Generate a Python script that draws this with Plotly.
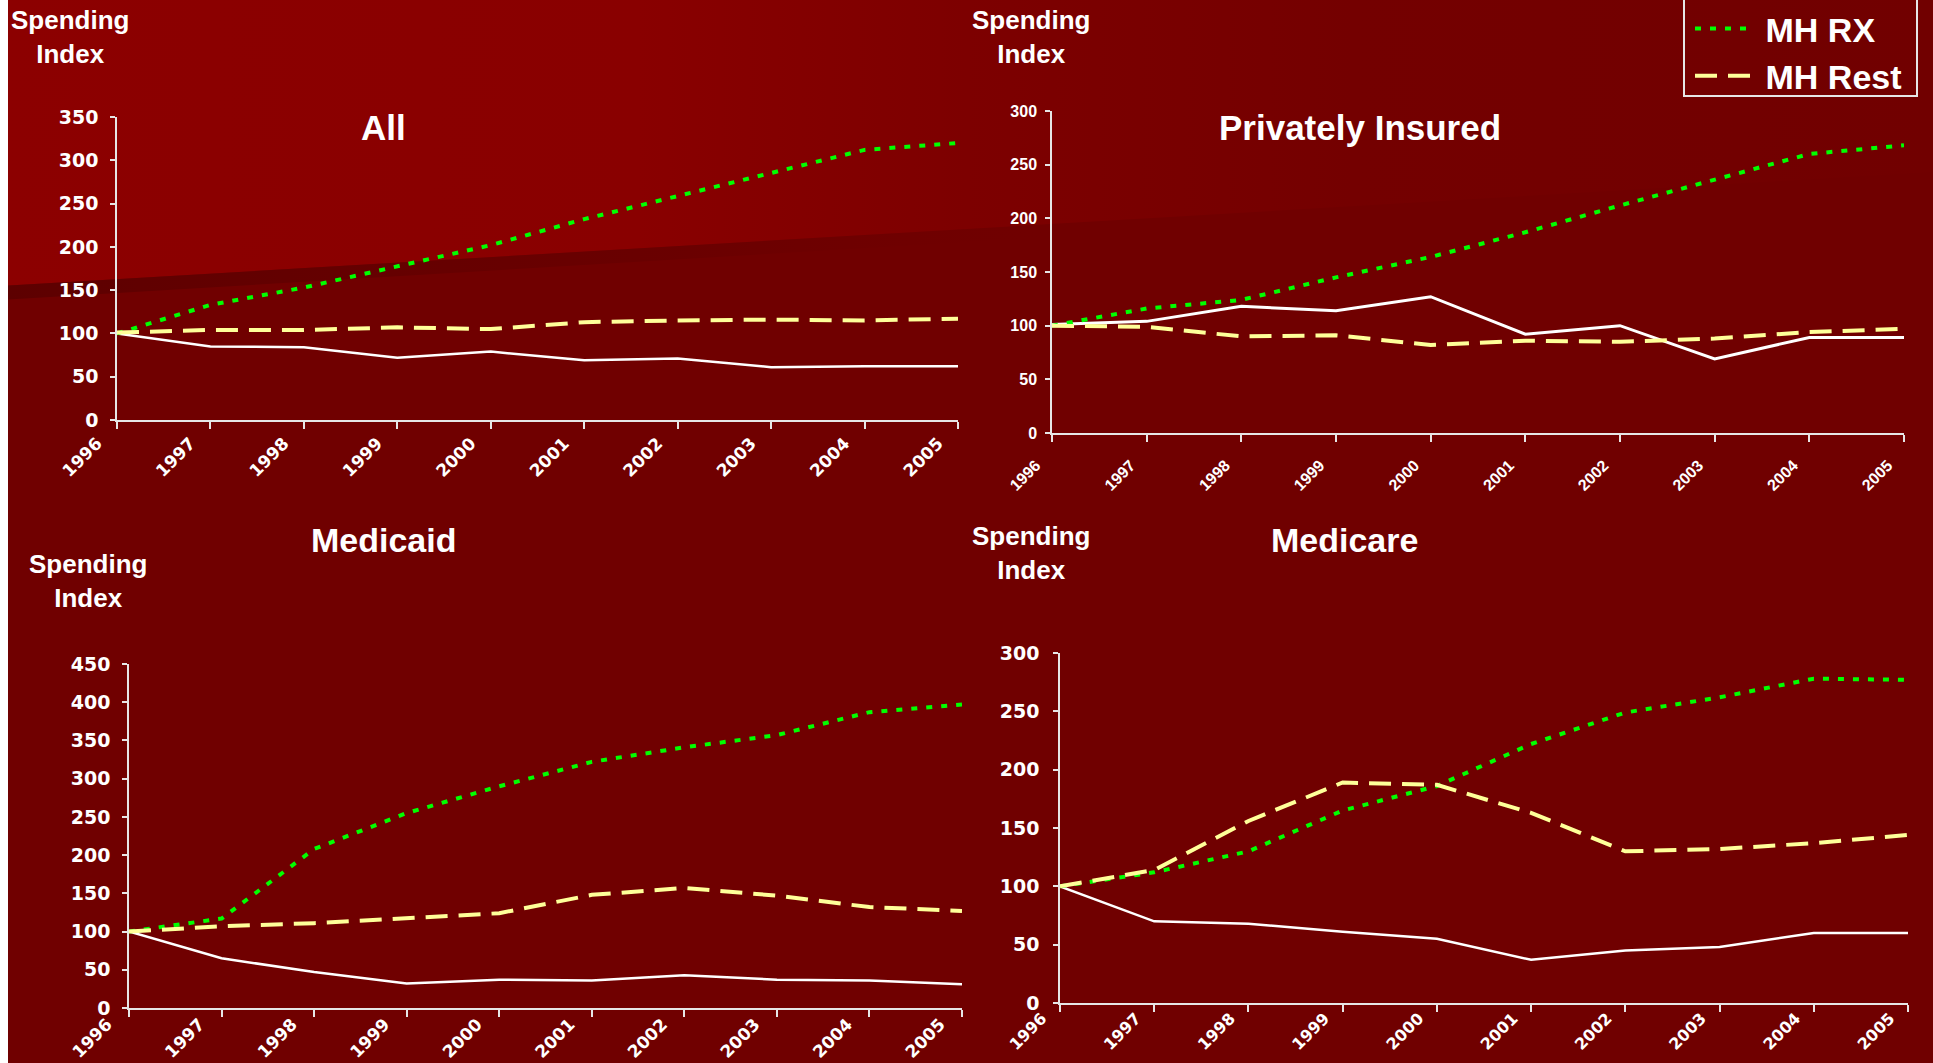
import base64
import plotly.graph_objects as go

W, H = 1933, 1063

years = [1996, 1997, 1998, 1999, 2000, 2001, 2002, 2003, 2004, 2005]
year_labels = [str(y) for y in years]

panel_titles = ["All", "Privately Insured", "Medicaid", "Medicare"]
y_axis_title = "Spending<br>Index"
series_names = ["Other", "MH RX", "MH Rest"]

# values (index, 1996 = 100)
all_other = [100, 85, 84, 72, 79, 69, 71, 61, 62, 62]
all_rx = [100, 133, 153, 178, 202, 232, 259, 285, 312, 320]
all_rest = [101, 104, 104, 107, 105, 113, 115, 116, 115, 117]

priv_other = [101, 104, 118, 114, 127, 92, 100, 69, 89, 89]
priv_rx = [100, 116, 124, 145, 164, 187, 212, 236, 260, 268]
priv_rest = [100, 99, 90, 91, 82, 86, 85, 88, 94, 97]

mcaid_other = [100, 65, 47, 32, 37, 36, 43, 37, 36, 31]
mcaid_rx = [100, 117, 208, 255, 290, 322, 341, 357, 387, 397]
mcaid_rest = [100, 107, 111, 118, 124, 148, 157, 147, 132, 127]

mcare_other = [100, 70, 68, 61, 55, 37, 45, 48, 60, 60]
mcare_rx = [100, 112, 130, 165, 186, 222, 249, 262, 278, 277]
mcare_rest = [100, 114, 156, 189, 187, 163, 130, 132, 137, 144]

y_max = [350, 300, 450, 300]

panels_data = [
    (all_other, all_rx, all_rest),
    (priv_other, priv_rx, priv_rest),
    (mcaid_other, mcaid_rx, mcaid_rest),
    (mcare_other, mcare_rx, mcare_rest),
]

ARIAL = "Arial, 'Liberation Sans', sans-serif"
DEJAVU = "'DejaVu Sans', Verdana, sans-serif"

# layout geometry (pixels)
boxes = [  # x0, x1, ytop, ybottom
    (117, 958, 117, 420),
    (1052, 1904, 111, 433),
    (129, 962, 664, 1008),
    (1060, 1908, 653, 1003),
]
ytick_font = [(DEJAVU, 19), (ARIAL, 16), (DEJAVU, 19), (DEJAVU, 19)]
xtick_font = [(DEJAVU, 17), (ARIAL, 16), (DEJAVU, 17), (DEJAVU, 16)]
ystandoff = [8, 5, 8, 10]
xshift = [-20, -16, -22, -18]
xstandoff = [-2, 8, -9, -9]
title_pos = [(383, 128), (1360, 128), (383, 540), (1344, 540)]
yt_pos = [(70, 37), (1031, 37), (88, 581), (1031, 553)]
line_w_white = [2.5, 3, 2.5, 2.5]


def fx(x):
    return x / W


def fy(y):
    return 1 - y / H


fig = go.Figure()

for i, (other, rx, rest) in enumerate(panels_data):
    sfx = "" if i == 0 else str(i + 1)
    xa, ya = "x" + sfx, "y" + sfx
    lw = line_w_white[i]
    fig.add_trace(go.Scatter(x=years, y=other, mode="lines", name=series_names[0],
                             line=dict(color="#FFFFFF", width=lw),
                             showlegend=False, xaxis=xa, yaxis=ya))
    fig.add_trace(go.Scatter(x=years, y=rx, mode="lines", name="\u2005" + series_names[1],
                             line=dict(color="#00FF00", width=4, dash="6px,9px"),
                             showlegend=(i == 0), legendgroup="mh", xaxis=xa, yaxis=ya))
    fig.add_trace(go.Scatter(x=years, y=rest, mode="lines", name="\u2005" + series_names[2],
                             line=dict(color="#FFFF99", width=4, dash="22px,11px"),
                             showlegend=(i == 0), legendgroup="mh", xaxis=xa, yaxis=ya))

    x0, x1, yt, yb = boxes[i]
    xf, xs = xtick_font[i]
    yfam, ys = ytick_font[i]
    fig.layout["xaxis" + sfx] = dict(
        domain=[fx(x0), fx(x1)], anchor=ya, range=[1996, 2005],
        tickmode="array", tickvals=years, ticktext=year_labels, tickangle=-45,
        ticks="outside", ticklen=7, tickwidth=1.5, tickcolor="#E6E6E6",
        showline=True, linecolor="#E6E6E6", linewidth=1.5,
        showgrid=False, zeroline=False,
        ticklabelshift=xshift[i], ticklabelstandoff=xstandoff[i],
        tickfont=dict(family=xf, size=xs, color="white", weight="bold"),
    )
    fig.layout["yaxis" + sfx] = dict(
        domain=[fy(yb), fy(yt)], anchor=xa, range=[0, y_max[i]], dtick=50,
        ticks="outside", ticklen=5, tickwidth=1.5, tickcolor="#E6E6E6",
        showline=True, linecolor="#E6E6E6", linewidth=1.5,
        showgrid=False, zeroline=False, ticklabelstandoff=ystandoff[i],
        tickfont=dict(family=yfam, size=ys, color="white", weight="bold"),
    )

annotations = []
for i in range(4):
    tx, ty = title_pos[i]
    annotations.append(dict(text=panel_titles[i], x=fx(tx), y=fy(ty), xref="paper", yref="paper",
                            xanchor="center", yanchor="middle", showarrow=False,
                            font=dict(family=ARIAL, size=35 if i < 2 else 34, color="white", weight="bold")))
    sx, sy = yt_pos[i]
    annotations.append(dict(text=y_axis_title, x=fx(sx), y=fy(sy), xref="paper", yref="paper",
                            xanchor="center", yanchor="middle", showarrow=False, align="center",
                            font=dict(family=ARIAL, size=26, color="white", weight="bold")))

# background: dark red slide with lighter band at upper left
svg = f"""<svg xmlns='http://www.w3.org/2000/svg' width='{W}' height='{H}' viewBox='0 0 {W} {H}' preserveAspectRatio='none'>
<defs>
<linearGradient id='g' x1='0' y1='0' x2='1' y2='0'>
<stop offset='0' stop-color='#8C0000'/>
<stop offset='0.33' stop-color='#890000'/>
<stop offset='0.50' stop-color='#7D0000'/>
<stop offset='0.70' stop-color='#740000'/>
<stop offset='1' stop-color='#710000'/>
</linearGradient>
<linearGradient id='s' x1='0' y1='0' x2='1' y2='0'>
<stop offset='0' stop-color='#580000' stop-opacity='0.8'/>
<stop offset='0.35' stop-color='#600000' stop-opacity='0.4'/>
<stop offset='0.55' stop-color='#700000' stop-opacity='0'/>
<stop offset='1' stop-color='#700000' stop-opacity='0'/>
</linearGradient>
</defs>
<rect x='0' y='0' width='{W}' height='{H}' fill='#700000'/>
<polygon points='0,0 {W},0 {W},172 0,286' fill='url(#g)'/>
<polygon points='0,286 {W},172 {W},184 0,300' fill='url(#s)'/>
<rect x='0' y='0' width='8' height='{H}' fill='#FFFFFF'/>
</svg>"""
src = "data:image/svg+xml;base64," + base64.b64encode(svg.encode()).decode()

shapes = [
    dict(type="path", xref="paper", yref="paper",
         path=f"M {fx(1684)},{fy(0)} L {fx(1684)},{fy(96)} L {fx(1917)},{fy(96)} L {fx(1917)},{fy(0)}",
         line=dict(color="#E6E6E6", width=2)),
]

fig.update_layout(
    width=W, height=H,
    margin=dict(l=0, r=0, t=0, b=0, autoexpand=False),
    paper_bgcolor="#700000", plot_bgcolor="rgba(0,0,0,0)",
    images=[dict(source=src, xref="paper", yref="paper", x=0, y=1, sizex=1, sizey=1,
                 xanchor="left", yanchor="top", sizing="stretch", layer="below")],
    annotations=annotations,
    shapes=shapes,
    showlegend=True,
    legend=dict(x=fx(1690), y=1, xanchor="left", yanchor="top",
                bgcolor="rgba(0,0,0,0)", borderwidth=0, itemwidth=57,
                font=dict(family=ARIAL, size=34, color="white", weight="bold")),
    font=dict(family=ARIAL, color="white"),
)

fig.write_html("out.html")
